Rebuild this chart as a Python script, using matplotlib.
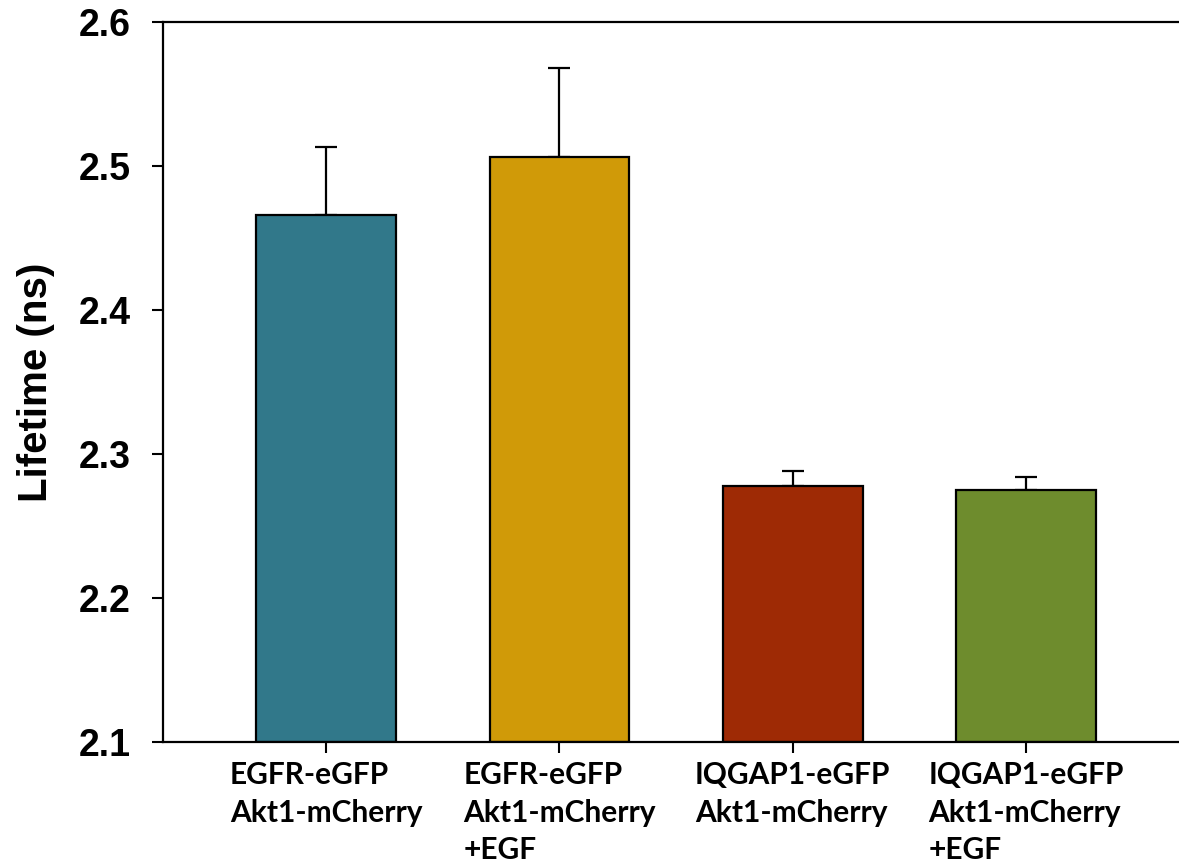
import matplotlib
matplotlib.use("Agg")
import matplotlib.pyplot as plt

# values
groups = ["EGFR-eGFP\nAkt1-mCherry",
          "EGFR-eGFP\nAkt1-mCherry\n+EGF",
          "IQGAP1-eGFP\nAkt1-mCherry",
          "IQGAP1-eGFP\nAkt1-mCherry\n+EGF"]
lifetimes = [2.466, 2.506, 2.278, 2.275]
errors = [0.047, 0.062, 0.010, 0.009]
bar_colors = ["#31788A", "#D09A08", "#9E2A05", "#6E8C2D"]
y_ticks = [2.1, 2.2, 2.3, 2.4, 2.5, 2.6]

figure = plt.figure(figsize=(11.79, 8.65), dpi=100)
# axes run past the right edge, the reference is cropped there
axes = figure.add_axes([0.1383, 0.1422, 0.8703, 0.8324])

positions = list(range(len(groups)))
axes.bar(positions, [v - 2.1 for v in lifetimes], bottom=2.1, width=0.6,
         color=bar_colors, edgecolor="black", linewidth=1.6, zorder=2)
axes.errorbar(positions, lifetimes, yerr=[[0] * len(errors), errors],
              fmt="none", ecolor="black", elinewidth=1.6, capsize=8,
              capthick=1.6, zorder=1)

axes.set_xlim(-0.7, 3.7)
axes.set_ylim(2.1, 2.6)
axes.set_yticks(y_ticks)
axes.set_yticklabels(["%.1f" % t for t in y_ticks],
                     fontfamily="Liberation Sans", fontweight="bold", fontsize=27)
axes.set_xticks(positions)
axes.set_xticklabels(groups, fontfamily="Lato", fontweight="bold",
                     fontsize=21.5, linespacing=1.4)
for label in axes.get_xticklabels():
    label.set_multialignment("left")

axes.set_ylabel("Lifetime (ns)", fontfamily="Liberation Sans",
                fontweight="bold", fontsize=29, labelpad=17)

for side in ["left", "bottom", "top"]:
    axes.spines[side].set_linewidth(1.6)
axes.spines["right"].set_visible(False)
axes.tick_params(axis="y", direction="out", length=8, width=1.5, pad=15)
axes.tick_params(axis="x", direction="out", length=8, width=1.5, pad=6)

figure.savefig("out.png", dpi=100)
